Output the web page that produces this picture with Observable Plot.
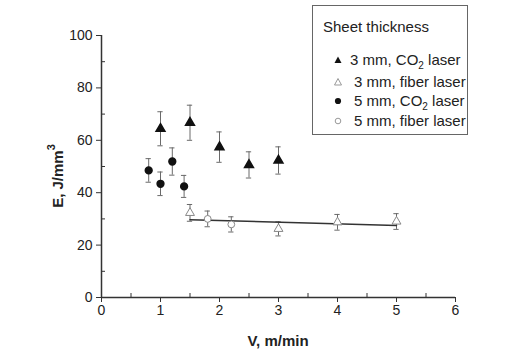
<!DOCTYPE html>
<html>
<head>
<meta charset="utf-8">
<script src="https://cdn.jsdelivr.net/npm/d3@7"></script>
<script src="https://cdn.jsdelivr.net/npm/@observablehq/plot@0.6"></script>
<style>
  body { margin: 0; background: #fff; }
  #wrap { position: relative; width: 519px; height: 354px; font-family: "Liberation Sans", Arial, sans-serif; }
  #legend { position: absolute; left: 312px; top: 5px; width: 154px; height: 128px; border: 1px solid #666; background: #fff; font-size: 15px; color: #222; }
  #legend .title { position: absolute; left: 10px; top: 12px; font-size: 15px; }
  #legend .item { position: absolute; left: 20px; height: 16px; line-height: 16px; white-space: nowrap; }
  #legend .item svg { position: absolute; left: 0; top: 3px; }
  #legend .item span.t { position: absolute; left: 18px; top: 0; }
  sub { font-size: 10px; vertical-align: -4px; line-height: 0; }
</style>
</head>
<body>
<div id="wrap"></div>
<script>
// ---- data ----
const co2_3mm_x = [1.0, 1.5, 2.0, 2.5, 3.0];
const co2_3mm_y = [64.4, 66.7, 57.4, 50.6, 52.3];
const co2_3mm_err = [6.5, 6.7, 5.8, 5.0, 5.2];

const fiber_3mm_x = [1.5, 3.0, 4.0, 5.0];
const fiber_3mm_y = [32.3, 26.2, 28.7, 29.0];
const fiber_3mm_err = [3.2, 2.7, 3.0, 3.0];

const co2_5mm_x = [0.8, 1.0, 1.2, 1.4];
const co2_5mm_y = [48.5, 43.4, 51.9, 42.4];
const co2_5mm_err = [4.5, 4.5, 5.2, 4.2];

const fiber_5mm_x = [1.8, 2.2];
const fiber_5mm_y = [30.0, 27.9];
const fiber_5mm_err = [3.0, 2.9];

const fit_x = [1.5, 5.0];
const fit_y = [29.7, 27.5];

const xMajor = [0, 1, 2, 3, 4, 5, 6];
const xMinor = [0.5, 1.5, 2.5, 3.5, 4.5, 5.5];
const yMajor = [0, 20, 40, 60, 80, 100];
const yMinor = [10, 30, 50, 70, 90];

const legendLabels = ["3 mm, CO2 laser", "3 mm, fiber laser", "5 mm, CO2 laser", "5 mm, fiber laser"];

// ---- build tables ----
const mk = (xs, ys, es) => xs.map((x, i) => ({x, y: ys[i], e: es[i]}));
const s1 = mk(co2_3mm_x, co2_3mm_y, co2_3mm_err);
const s2 = mk(fiber_3mm_x, fiber_3mm_y, fiber_3mm_err);
const s3 = mk(co2_5mm_x, co2_5mm_y, co2_5mm_err);
const s4 = mk(fiber_5mm_x, fiber_5mm_y, fiber_5mm_err);
const all = [...s1, ...s2, ...s3, ...s4];
const fit = fit_x.map((x, i) => ({x, y: fit_y[i]}));

const capW = 0.045;
const errColor = "#6a6a6a";

const chart = Plot.plot({
  width: 519,
  height: 354,
  marginLeft: 101,
  marginRight: 64,
  marginTop: 35,
  marginBottom: 57,
  style: {fontFamily: '"Liberation Sans", Arial, sans-serif', fontSize: "14px", color: "#222", background: "#fff"},
  x: {domain: [0, 6]},
  y: {domain: [0, 100]},
  marks: [
    // error bars
    Plot.ruleX(all, {x: "x", y1: d => d.y - d.e, y2: d => d.y + d.e, stroke: errColor, strokeWidth: 1}),
    Plot.ruleY(all, {y: d => d.y + d.e, x1: d => d.x - capW, x2: d => d.x + capW, stroke: errColor, strokeWidth: 1}),
    Plot.ruleY(all, {y: d => d.y - d.e, x1: d => d.x - capW, x2: d => d.x + capW, stroke: errColor, strokeWidth: 1}),
    // fit line
    Plot.line(fit, {x: "x", y: "y", stroke: "#333", strokeWidth: 1.5}),
    // points
    Plot.dot(s1, {x: "x", y: "y", symbol: "triangle", r: 3.3, fill: "#111", stroke: "#111"}),
    Plot.dot(s3, {x: "x", y: "y", symbol: "circle", r: 3.4, fill: "#111", stroke: "#111"}),
    Plot.dot(s2, {x: "x", y: "y", symbol: "triangle", r: 3.3, fill: "#fff", stroke: "#888", strokeWidth: 1}),
    Plot.dot(s4, {x: "x", y: "y", symbol: "circle", r: 3.4, fill: "#fff", stroke: "#888", strokeWidth: 1}),
    // axes
    Plot.axisX({ticks: xMajor, tickSize: 5, tickPadding: 3, tickFormat: d => String(d), stroke: "#333", fontSize: 14, label: null}),
    Plot.axisX({ticks: xMinor, tickSize: -4, tickFormat: () => "", stroke: "#333", label: null}),
    Plot.axisY({ticks: yMajor, tickSize: 5, tickPadding: 4, tickFormat: d => String(d), stroke: "#333", fontSize: 14, label: null}),
    Plot.axisY({ticks: yMinor, tickSize: -4, tickFormat: () => "", stroke: "#333", label: null}),
    Plot.ruleY([0], {stroke: "#333", strokeWidth: 1.5}),
    Plot.ruleX([0], {stroke: "#333", strokeWidth: 1.5})
  ]
});

const wrap = document.getElementById("wrap");
wrap.appendChild(chart);

// axis labels as SVG text
const svg = d3.select(chart);
svg.append("text")
  .attr("x", 278).attr("y", 340).attr("text-anchor", "middle").attr("dominant-baseline", "central")
  .attr("font-weight", "bold").attr("font-size", 15).attr("fill", "#222")
  .text("V, m/min");
const yl = svg.append("text")
  .attr("transform", "translate(57,176) rotate(-90)")
  .attr("text-anchor", "middle").attr("dominant-baseline", "central")
  .attr("font-weight", "bold").attr("font-size", 15).attr("fill", "#222");
yl.append("tspan").text("E, J/mm");
yl.append("tspan").attr("baseline-shift", "super").attr("font-size", 11).text("3");

// legend
const leg = document.createElement("div");
leg.id = "legend";
leg.innerHTML = '<div class="title">Sheet thickness</div>';
const symbols = [
  '<svg width="10" height="10"><path d="M5,1.5 L8.5,8 L1.5,8 Z" fill="#111"/></svg>',
  '<svg width="10" height="10"><path d="M5,1.5 L8.5,8 L1.5,8 Z" fill="#fff" stroke="#999" stroke-width="1"/></svg>',
  '<svg width="10" height="10"><circle cx="5" cy="5" r="3.1" fill="#111"/></svg>',
  '<svg width="10" height="10"><circle cx="5" cy="5" r="2.8" fill="#fff" stroke="#999" stroke-width="1"/></svg>'
];
const tops = [46, 68, 87, 107];
const textOffsets = [17, 21, 21, 21];
legendLabels.forEach((lab, i) => {
  const it = document.createElement("div");
  it.className = "item";
  it.style.top = tops[i] + "px";
  const html = lab.replace("CO2", "CO<sub>2</sub>");
  it.innerHTML = symbols[i] + '<span class="t" style="left:' + textOffsets[i] + 'px">' + html + '</span>';
  leg.appendChild(it);
});
wrap.appendChild(leg);
</script>
</body>
</html>
